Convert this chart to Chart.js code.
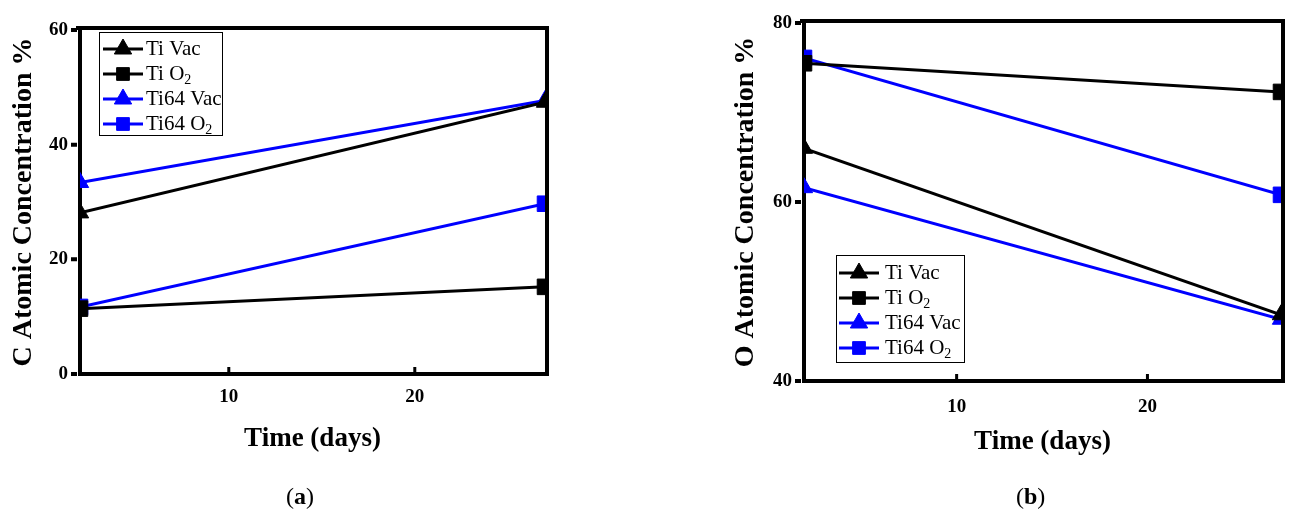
<!DOCTYPE html>
<html>
<head>
<meta charset="utf-8">
<script src="https://cdn.jsdelivr.net/npm/chart.js@4.4.1/dist/chart.umd.min.js"></script>
<style>
  body { margin: 0; background: #fff; width: 1293px; height: 524px; position: relative; overflow: hidden;
         font-family: "Liberation Serif", "Times New Roman", serif; }
  .panel { position: absolute; top: 0; height: 524px; }
  #wrapA { left: 0; width: 620px; }
  #wrapB { left: 650px; width: 643px; }
  .tag { position: absolute; top: 483px; font-size: 24px; color: #000; }
</style>
</head>
<body>
<div class="panel" id="wrapA"><canvas id="chartA"></canvas></div>
<div class="panel" id="wrapB"><canvas id="chartB"></canvas></div>
<div class="tag" style="left:286px">(<b>a</b>)</div>
<div class="tag" style="left:1016px">(<b>b</b>)</div>
<script>
const days = [2, 27];
const seriesNames = ["Ti Vac", "Ti O₂", "Ti64 Vac", "Ti64 O₂"];

// (a) carbon
const cTiVac = [28.1, 47.4];
const cTiO2 = [11.4, 15.2];
const cTi64Vac = [33.4, 47.7];
const cTi64O2 = [11.7, 29.7];

// (b) oxygen
const oTiVac = [66.0, 47.4];
const oTiO2 = [75.5, 72.3];
const oTi64Vac = [61.6, 46.9];
const oTi64O2 = [76.1, 60.8];

const xTicks = [10, 20];
const cTicks = [0, 20, 40, 60];
const oTicks = [40, 60, 80];

const SERIF = '"Liberation Serif", "Times New Roman", serif';
const BLUE = "#0000ff";
const styles = [
    { color: "#000", point: "triangle", r: 10 },
    { color: "#000", point: "rect", r: 11 },
    { color: BLUE, point: "triangle", r: 10 },
    { color: BLUE, point: "rect", r: 11 }
];

function makeSets(lists) {
    return lists.map((vals, i) => ({
        label: seriesNames[i],
        data: vals.map((v, k) => ({ x: days[k], y: v })),
        borderColor: styles[i].color,
        backgroundColor: styles[i].color,
        pointBackgroundColor: styles[i].color,
        pointBorderColor: styles[i].color,
        pointStyle: styles[i].point,
        pointRadius: styles[i].r,
        pointBorderWidth: 1,
        borderWidth: 3,
        tension: 0,
        clip: 0
    }));
}

// top/right frame plus tick marks
const frame = {
    id: "frame",
    afterDatasetsDraw(chart) {
        const { ctx, chartArea: a, scales } = chart;
        ctx.save();
        ctx.strokeStyle = "#000";
        ctx.lineWidth = 4;
        ctx.beginPath();
        ctx.moveTo(a.left - 4, a.top - 2);
        ctx.lineTo(a.right + 4, a.top - 2);
        ctx.moveTo(a.right + 2, a.top - 4);
        ctx.lineTo(a.right + 2, a.bottom + 2);
        ctx.stroke();
        ctx.lineWidth = 3;
        ctx.beginPath();
        scales.x.ticks.forEach(t => {
            const px = scales.x.getPixelForValue(t.value);
            ctx.moveTo(px, a.bottom);
            ctx.lineTo(px, a.bottom - 7);
        });
        ctx.stroke();
        ctx.lineWidth = 4;
        ctx.beginPath();
        scales.y.ticks.forEach(t => {
            const py = scales.y.getPixelForValue(t.value);
            ctx.moveTo(a.left - 3, py);
            ctx.lineTo(a.left - 9, py);
        });
        ctx.stroke();
        ctx.restore();
    }
};

// boxed legend placed inside the plot
const boxLegend = {
    id: "boxLegend",
    afterDraw(chart, args, o) {
        const ctx = chart.ctx;
        ctx.save();
        ctx.fillStyle = "#fff";
        ctx.fillRect(o.left, o.top, o.width, o.height);
        ctx.strokeStyle = "#000";
        ctx.lineWidth = 1;
        ctx.strokeRect(o.left + 0.5, o.top + 0.5, o.width, o.height);
        chart.data.datasets.forEach((ds, i) => {
            const y = o.firstRow + i * o.rowGap;
            ctx.strokeStyle = ds.borderColor;
            ctx.lineWidth = 3;
            ctx.beginPath();
            ctx.moveTo(o.sampleX, y);
            ctx.lineTo(o.sampleX + 40, y);
            ctx.stroke();
            ctx.fillStyle = ds.borderColor;
            ctx.lineWidth = 1;
            Chart.helpers.drawPoint(ctx, {
                pointStyle: ds.pointStyle,
                radius: ds.pointStyle === "rect" ? 9 : 10,
                rotation: 0,
                borderWidth: 1
            }, o.sampleX + 20, y);

            ctx.fillStyle = "#000";
            ctx.textBaseline = "middle";
            ctx.font = "21px " + SERIF;
            let txt = ds.label;
            const sub = txt.endsWith("₂");
            if (sub) txt = txt.slice(0, -1);
            ctx.fillText(txt, o.textX, y);
            if (sub) {
                const w = ctx.measureText(txt).width;
                ctx.font = "14px " + SERIF;
                ctx.fillText("2", o.textX + w, y + 6);
            }
        });
        ctx.restore();
    }
};

function buildChart(id, lists, cfg) {
    const tickFont = { family: SERIF, size: 19, weight: "bold" };
    return new Chart(document.getElementById(id), {
        type: "line",
        data: { datasets: makeSets(lists) },
        plugins: [frame, boxLegend],
        options: {
            responsive: true,
            maintainAspectRatio: false,
            animation: false,
            layout: { padding: cfg.padding },
            plugins: {
                legend: { display: false },
                tooltip: { enabled: false },
                boxLegend: cfg.legend
            },
            scales: {
                x: {
                    type: "linear",
                    min: days[0],
                    max: days[1],
                    afterBuildTicks: s => { s.ticks = xTicks.map(v => ({ value: v })); },
                    afterFit: s => { s.height = cfg.xHeight; },
                    grid: { display: false },
                    border: { display: true, color: "#000", width: 4 },
                    ticks: { color: "#000", font: tickFont, padding: cfg.xPad, maxRotation: 0 },
                    title: {
                        display: true,
                        text: "Time (days)",
                        color: "#000",
                        font: { family: SERIF, size: 27, weight: "bold" },
                        padding: { top: 0, bottom: cfg.xTitlePad }
                    }
                },
                y: {
                    min: cfg.yTicks[0],
                    max: cfg.yTicks[cfg.yTicks.length - 1],
                    afterBuildTicks: s => { s.ticks = cfg.yTicks.map(v => ({ value: v })); },
                    afterFit: s => { s.width = cfg.yWidth; },
                    grid: { display: false },
                    border: { display: true, color: "#000", width: 4 },
                    ticks: { color: "#000", font: tickFont, padding: 4 },
                    title: {
                        display: true,
                        text: cfg.yTitle,
                        color: "#000",
                        font: { family: SERIF, size: 28, weight: "bold" },
                        padding: { top: cfg.yTitlePad, bottom: 0 }
                    }
                }
            }
        }
    });
}

buildChart("chartA", [cTiVac, cTiO2, cTi64Vac, cTi64O2], {
    padding: { left: 0, top: 30, right: 75, bottom: 0 },
    xHeight: 150, yWidth: 80, xPad: 4, xTitlePad: 69, yTitlePad: 7,
    yTicks: cTicks,
    yTitle: "C Atomic Concentration %",
    legend: { left: 99, top: 32, width: 123, height: 103, firstRow: 49, rowGap: 25, sampleX: 103, textX: 146 }
});

buildChart("chartB", [oTiVac, oTiO2, oTi64Vac, oTi64O2], {
    padding: { left: 0, top: 23, right: 11, bottom: 0 },
    xHeight: 143, yWidth: 154, xPad: 6.5, xTitlePad: 66, yTitlePad: 79,
    yTicks: oTicks,
    yTitle: "O Atomic Concentration %",
    legend: { left: 186, top: 255, width: 128, height: 107, firstRow: 273, rowGap: 25, sampleX: 189, textX: 235 }
});
</script>
</body>
</html>
